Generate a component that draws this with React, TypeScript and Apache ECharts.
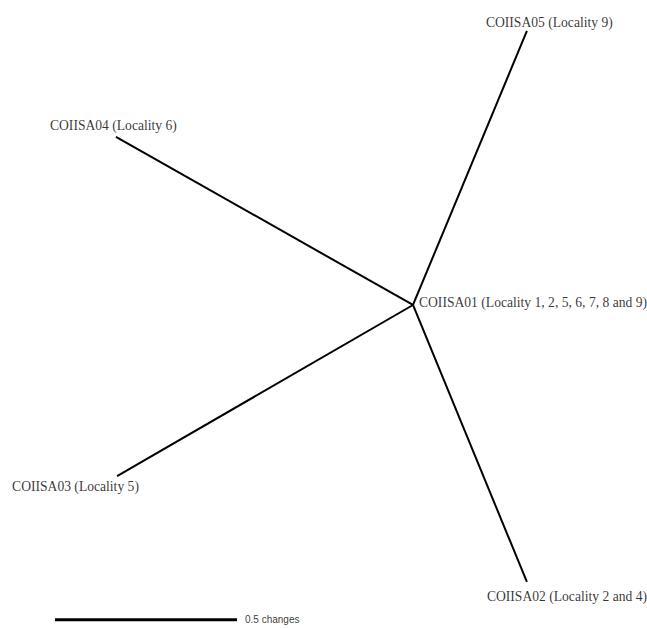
import React, { useEffect, useRef } from "react";
import * as echarts from "echarts";

// Tree nodes in "changes" units, centre node at (0, 0), y pointing up
const centerName = "COIISA01 (Locality 1, 2, 5, 6, 7, 8 and 9)";
const tipNames = [
  "COIISA05 (Locality 9)",
  "COIISA04 (Locality 6)",
  "COIISA03 (Locality 5)",
  "COIISA02 (Locality 2 and 4)",
];
const tipX = [0.313, -0.816, -0.813, 0.313];
const tipY = [0.753, 0.462, -0.47, -0.761];

// Scale bar (0.5 changes)
const scaleBarLength = 0.5;
const scaleBarStart = [-0.9835, -0.865];
const scaleBarLabel = "0.5 changes";

const labelOffsets: number[][] = [
  [-41, -8],
  [-66, -11],
  [-105, 10],
  [-40, 15],
];

export default function App() {
  const ref = useRef<HTMLDivElement>(null);
  useEffect(() => {
    if (!ref.current) return;
    const chart = echarts.init(ref.current, null, { renderer: "svg" });
    const serif = "'Liberation Serif', 'Times New Roman', serif";
    const fs = 13.6;
    const branchSeries = tipNames.map((n, i) => ({
      type: "line",
      name: n,
      data: [
        [0, 0],
        [tipX[i], tipY[i]],
      ],
      symbol: "none",
      lineStyle: { color: "#000", width: 2 },
      silent: true,
    }));
    const tipLabels = tipNames.map((n, i) => ({
      value: [tipX[i], tipY[i]],
      name: n,
      label: {
        show: true,
        formatter: n,
        position: [0, 0],
        align: "left",
        verticalAlign: "middle",
        offset: labelOffsets[i],
        fontFamily: serif,
        fontSize: fs,
        color: "#000",
      },
    }));
    const centerLabel = {
      value: [0, 0],
      name: centerName,
      label: {
        show: true,
        formatter: centerName,
        position: [0, 0],
        align: "left",
        verticalAlign: "middle",
        offset: [6, -2],
        fontFamily: serif,
        fontSize: fs,
        color: "#000",
      },
    };
    const barEnd = [scaleBarStart[0] + scaleBarLength, scaleBarStart[1]];
    chart.setOption({
      animation: false,
      backgroundColor: "#fff",
      grid: { left: 0, right: 0, top: 0, bottom: 0 },
      xAxis: {
        type: "value",
        min: -1.1346,
        max: 0.6429,
        show: false,
      },
      yAxis: {
        type: "value",
        min: -0.8874,
        max: 0.8379,
        show: false,
      },
      series: [
        ...branchSeries,
        {
          type: "line",
          name: "scale",
          data: [scaleBarStart, barEnd],
          symbol: "none",
          lineStyle: { color: "#000", width: 3 },
          silent: true,
        },
        {
          type: "scatter",
          symbolSize: 0,
          data: [
            ...tipLabels,
            centerLabel,
            {
              value: barEnd,
              name: scaleBarLabel,
              label: {
                show: true,
                formatter: scaleBarLabel,
                position: [0, 0],
                align: "left",
                verticalAlign: "middle",
                offset: [8, 0],
                fontFamily: "'Liberation Sans', Arial, sans-serif",
                fontSize: 10,
                color: "#000",
              },
            },
          ],
          silent: true,
        },
      ],
    });
    return () => chart.dispose();
  }, []);
  return (
    <div
      ref={ref}
      style={{ position: "fixed", left: 0, top: 0, width: 647, height: 628 }}
    />
  );
}
